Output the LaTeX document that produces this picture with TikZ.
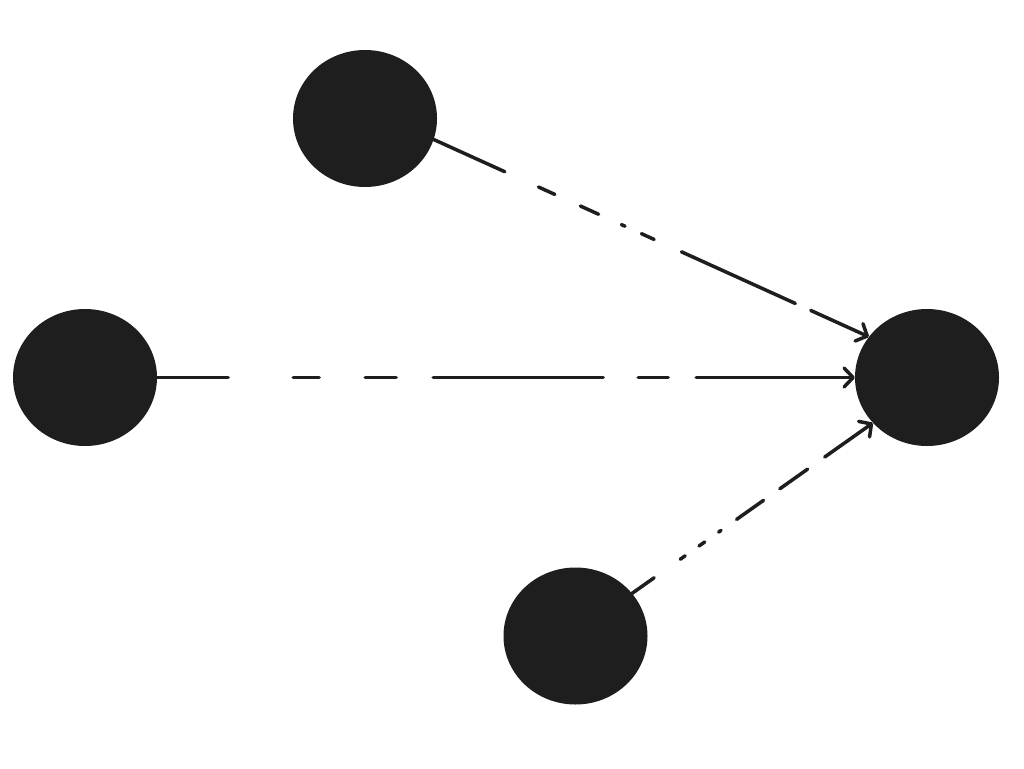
\documentclass[tikz,border=0pt]{standalone}
\usetikzlibrary{shapes.geometric,arrows.meta}
\definecolor{ink}{HTML}{1E1E1E}
\tikzset{
  dot/.style={ellipse, fill=ink, draw=none, inner sep=0pt, minimum width=144pt, minimum height=137pt},
  link/.style={draw=ink, line width=3.5pt, line cap=round, -{Straight Barb[length=9pt,width=19pt,line cap=round,round]}},
  patA/.style={dash pattern=on 78pt off 37pt on 18pt off 28pt on 20pt off 25pt on 4pt off 18pt on 14pt off 30pt on 125pt off 17pt on 300pt off 10pt},
  patB/.style={dash pattern=on 71pt off 65pt on 26pt off 46pt on 31pt off 37pt on 170pt off 35pt on 30pt off 28pt on 400pt off 10pt},
  patC/.style={dash pattern=on 27pt off 32pt on 6pt off 17pt on 7pt off 17pt on 3pt off 19pt on 33pt off 20pt on 34pt off 21pt on 300pt off 10pt}
}
\begin{document}
\begin{tikzpicture}[x=1pt,y=-1pt]
\useasboundingbox[fill=white] (0,0) rectangle (1024,768);
\node[dot] (top) at (365,118.5) {};
\node[dot] (left) at (85,377.5) {};
\node[dot] (right) at (927,377.5) {};
\node[dot] (bottom) at (575.5,636) {};
\draw[link,patA] (top.-17) -- (right.145);
\draw[link,patB] (left.0) -- (right.180);
\draw[link,patC] (bottom.37) -- (right.220);
\end{tikzpicture}
\end{document}
